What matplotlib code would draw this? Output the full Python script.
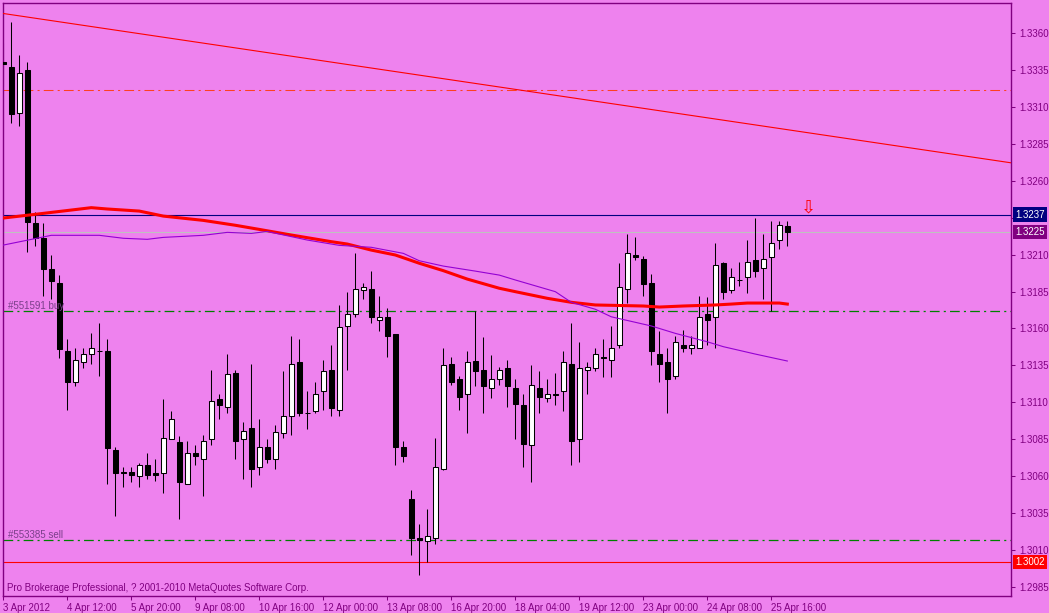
import matplotlib.pyplot as plt
import numpy as np

plt.rcParams['font.family'] = ['Liberation Sans', 'DejaVu Sans']
plt.rcParams['lines.scale_dashes'] = False

# EURUSD H4, 3 Apr - 25 Apr 2012 (99 bars)
opens = [1.3340, 1.3337, 1.3306, 1.3335, 1.3231, 1.3221, 1.3200, 1.3191, 1.3145, 1.3124,
         1.3137, 1.3143, 1.3145, 1.3145, 1.3078, 1.3063, 1.3063, 1.3060, 1.3068, 1.3062,
         1.3062, 1.3085, 1.3083, 1.3055, 1.3076, 1.3072, 1.3085, 1.3112, 1.3107, 1.3130,
         1.3085, 1.3093, 1.3066, 1.3080, 1.3072, 1.3089, 1.3101, 1.3137, 1.3103, 1.3104,
         1.3118, 1.3132, 1.3105, 1.3162, 1.3170, 1.3186, 1.3187, 1.3166, 1.3168, 1.3156,
         1.3080, 1.3045, 1.3018, 1.3016, 1.3018, 1.3065, 1.3136, 1.3126, 1.3116, 1.3138,
         1.3132, 1.3120, 1.3126, 1.3133, 1.3120, 1.3108, 1.3081, 1.3120, 1.3113, 1.3116,
         1.3118, 1.3136, 1.3085, 1.3132, 1.3133, 1.3141, 1.3139, 1.3149, 1.3187, 1.3210,
         1.3207, 1.3191, 1.3143, 1.3137, 1.3128, 1.3149, 1.3147, 1.3147, 1.3170, 1.3168,
         1.3204, 1.3186, 1.3193, 1.3195, 1.3206, 1.3201, 1.3208, 1.3220, 1.3229]
highs = [1.3353, 1.3367, 1.3345, 1.3340, 1.3239, 1.3231, 1.3210, 1.3196, 1.3153, 1.3147,
         1.3147, 1.3157, 1.3164, 1.3153, 1.3080, 1.3066, 1.3066, 1.3069, 1.3076, 1.3072,
         1.3112, 1.3104, 1.3087, 1.3084, 1.3081, 1.3088, 1.3132, 1.3116, 1.3143, 1.3132,
         1.3097, 1.3136, 1.3099, 1.3085, 1.3095, 1.3131, 1.3155, 1.3153, 1.3118, 1.3124,
         1.3139, 1.3149, 1.3176, 1.3185, 1.3211, 1.3191, 1.3199, 1.3182, 1.3174, 1.3156,
         1.3084, 1.3051, 1.3028, 1.3038, 1.3086, 1.3147, 1.3141, 1.3128, 1.3145, 1.3172,
         1.3154, 1.3142, 1.3134, 1.3139, 1.3126, 1.3116, 1.3135, 1.3131, 1.3126, 1.3130,
         1.3145, 1.3164, 1.3151, 1.3137, 1.3147, 1.3153, 1.3162, 1.3204, 1.3224, 1.3222,
         1.3209, 1.3197, 1.3158, 1.3147, 1.3155, 1.3159, 1.3155, 1.3182, 1.3181, 1.3218,
         1.3205, 1.3201, 1.3205, 1.3220, 1.3235, 1.3224, 1.3233, 1.3233, 1.3233]
lows = [1.3324, 1.3299, 1.3297, 1.3212, 1.3216, 1.3182, 1.3180, 1.3140, 1.3105, 1.3121,
        1.3133, 1.3136, 1.3128, 1.3055, 1.3033, 1.3053, 1.3056, 1.3053, 1.3058, 1.3057,
        1.3049, 1.3085, 1.3031, 1.3055, 1.3068, 1.3047, 1.3081, 1.3099, 1.3103, 1.3072,
        1.3058, 1.3053, 1.3061, 1.3069, 1.3065, 1.3086, 1.3088, 1.3101, 1.3092, 1.3103,
        1.3105, 1.3101, 1.3101, 1.3132, 1.3168, 1.3180, 1.3164, 1.3158, 1.3141, 1.3068,
        1.3070, 1.3007, 1.2993, 1.3002, 1.3014, 1.3064, 1.3122, 1.3105, 1.3089, 1.3121,
        1.3103, 1.3113, 1.3122, 1.3107, 1.3085, 1.3066, 1.3056, 1.3103, 1.3110, 1.3108,
        1.3104, 1.3068, 1.3070, 1.3116, 1.3131, 1.3127, 1.3127, 1.3147, 1.3177, 1.3206,
        1.3182, 1.3135, 1.3124, 1.3103, 1.3126, 1.3144, 1.3143, 1.3147, 1.3149, 1.3147,
        1.3180, 1.3184, 1.3189, 1.3184, 1.3195, 1.3180, 1.3172, 1.3214, 1.3216]
closes = [1.3339, 1.3305, 1.3333, 1.3232, 1.3221, 1.3200, 1.3192, 1.3146, 1.3124, 1.3139,
          1.3143, 1.3147, 1.3145, 1.3079, 1.3062, 1.3062, 1.3061, 1.3068, 1.3061, 1.3061,
          1.3086, 1.3099, 1.3056, 1.3076, 1.3074, 1.3084, 1.3111, 1.3108, 1.3129, 1.3084,
          1.3091, 1.3065, 1.3080, 1.3072, 1.3090, 1.3101, 1.3136, 1.3103, 1.3103, 1.3116,
          1.3131, 1.3106, 1.3161, 1.3170, 1.3187, 1.3188, 1.3168, 1.3168, 1.3155, 1.3080,
          1.3074, 1.3018, 1.3017, 1.3020, 1.3066, 1.3135, 1.3124, 1.3114, 1.3137, 1.3131,
          1.3121, 1.3126, 1.3132, 1.3121, 1.3109, 1.3082, 1.3122, 1.3114, 1.3116, 1.3115,
          1.3137, 1.3084, 1.3133, 1.3134, 1.3143, 1.3140, 1.3147, 1.3188, 1.3211, 1.3208,
          1.3190, 1.3145, 1.3136, 1.3126, 1.3151, 1.3147, 1.3149, 1.3168, 1.3166, 1.3203,
          1.3185, 1.3195, 1.3193, 1.3205, 1.3199, 1.3207, 1.3218, 1.3230, 1.3225]

# moving averages (bar index, price)
red_ma_idx = [0, 4, 11, 13, 17, 20, 25, 29, 32, 36, 41, 43, 46, 49, 52, 55, 58, 62, 64, 68,
              71, 74, 80, 82, 85, 89, 91, 93, 97, 98]
red_ma = [1.32347, 1.32372, 1.32417, 1.32408, 1.32394, 1.32360, 1.32331, 1.32298, 1.32270, 1.32232,
          1.32187, 1.32171, 1.32130, 1.32097, 1.32041, 1.31991, 1.31934, 1.31872, 1.31849, 1.31804,
          1.31777, 1.31759, 1.31752, 1.31745, 1.31752, 1.31759, 1.31765, 1.31772, 1.31772, 1.31765]
violet_ma_idx = [0, 6, 12, 15, 18, 20, 25, 28, 31, 33, 38, 42, 46, 50, 52, 55, 59, 62, 64, 69,
                 71, 74, 76, 81, 84, 88, 90, 94, 98]
violet_ma = [1.32164, 1.32230, 1.32230, 1.32210, 1.32203, 1.32216, 1.32230, 1.32250, 1.32243, 1.32256,
             1.32198, 1.32162, 1.32149, 1.32108, 1.32058, 1.32022, 1.31988, 1.31961, 1.31928, 1.31849,
             1.31777, 1.31730, 1.31679, 1.31617, 1.31567, 1.31510, 1.31477, 1.31427, 1.31380]

# trend line and horizontal levels
trend_idx = [0, 126]
trend_price = [1.3373, 1.3272]
ask = 1.3237
bid = 1.3225
upper_level = 1.3321
buy_level = 1.3172
sell_level = 1.3017
low_level = 1.3002
arrow_idx, arrow_price = 100.7, 1.3242

ytick_vals = [1.3360, 1.3335, 1.3310, 1.3285, 1.3260, 1.3235, 1.3210, 1.3185, 1.3160,
              1.3135, 1.3110, 1.3085, 1.3060, 1.3035, 1.3010, 1.2985]
xtick_idx = [0, 8, 16, 24, 32, 40, 48, 56, 64, 72, 80, 88, 96]
xtick_labels = ['3 Apr 2012', '4 Apr 12:00', '5 Apr 20:00', '9 Apr 08:00', '10 Apr 16:00',
                '12 Apr 00:00', '13 Apr 08:00', '16 Apr 20:00', '18 Apr 04:00', '19 Apr 12:00',
                '23 Apr 00:00', '24 Apr 08:00', '25 Apr 16:00']

bg = '#EE82EE'
frame = '#800080'
fs = 7

fig = plt.figure(figsize=(10.49, 6.13), dpi=100, facecolor=bg)
ax = fig.add_axes([2.5 / 1049, 1 - 596 / 613, (1011 - 2.5) / 1049, (596 - 2.7) / 613])
ax.set_facecolor(bg)

o = np.array(opens)
h = np.array(highs)
l = np.array(lows)
c = np.array(closes)
x = np.arange(len(o))

# candles
ax.vlines(x, l, h, color='black', lw=0.75, zorder=2)
up = c > o
down = c < o
flat = c == o
bottom = np.minimum(o, c)
height = np.abs(c - o)
ax.bar(x[up], height[up], bottom=bottom[up], width=0.6, color='white',
       edgecolor='black', lw=0.75, zorder=3)
ax.bar(x[down], height[down], bottom=bottom[down], width=0.6, color='black',
       edgecolor='black', lw=0.75, zorder=3)
ax.hlines(o[flat], x[flat] - 0.3, x[flat] + 0.3, color='black', lw=0.75, zorder=3)

# indicators
ax.plot(red_ma_idx, red_ma, color='#FF0000', lw=2.2, zorder=4)
ax.plot(violet_ma_idx, violet_ma, color='#9400D3', lw=0.8, zorder=4)
ax.plot(trend_idx, trend_price, color='#FF0000', lw=0.8, zorder=4)

dashdot = (0, (7, 3, 1.5, 3))
ax.axhline(upper_level, color='#FF4020', lw=0.75, ls=dashdot, zorder=1)
ax.axhline(buy_level, color='#008000', lw=0.9, ls=dashdot, zorder=1)
ax.axhline(sell_level, color='#008000', lw=0.9, ls=dashdot, zorder=1)
ax.axhline(ask, color='#000080', lw=0.8, zorder=1)
ax.axhline(bid, color='#C0C0C0', lw=0.8, zorder=1)
ax.axhline(low_level, color='#FF0000', lw=0.8, zorder=1)

ax.text(0.6, buy_level, '#551591 buy', color='#7A3F8A', fontsize=fs, va='bottom', ha='left')
ax.text(0.6, sell_level, '#553385 sell', color='#7A3F8A', fontsize=fs, va='bottom', ha='left')
ax.text(0.0045, 0.0143, 'Pro Brokerage Professional, ? 2001-2010 MetaQuotes Software Corp.',
        transform=ax.transAxes, color=frame, fontsize=fs, va='center', ha='left')
ax.text(arrow_idx, arrow_price, '\u21e9', color='#FF0000', fontsize=13, ha='center',
        va='center', family='DejaVu Sans', zorder=5)

ax.set_xlim(-0.1, 125.96)
ax.set_ylim(1.29791, 1.33803)

ax.yaxis.tick_right()
ax.set_yticks(ytick_vals)
# the 1.3235 label sits under the ask price box
ax.set_yticklabels(['' if abs(v - ask) < 0.0005 else f'{v:.4f}' for v in ytick_vals])
ax.set_xticks(xtick_idx)
ax.set_xticklabels(xtick_labels)
for lbl in ax.get_xticklabels():
    lbl.set_horizontalalignment('left')
ax.tick_params(axis='both', direction='out', length=3, width=0.75, color=frame,
               labelcolor=frame, labelsize=fs)
ax.tick_params(axis='y', pad=3)
ax.tick_params(axis='x', pad=2)

for s in ax.spines.values():
    s.set_color(frame)
    s.set_linewidth(1.0)

# price boxes on the right scale
for val, fc in [(ask, '#000080'), (bid, '#800080'), (low_level, '#FF0000')]:
    ax.text(1.0045, val, f'{val:.4f}', transform=ax.get_yaxis_transform(), ha='left',
            va='center', color='white', fontsize=fs,
            bbox=dict(boxstyle='square,pad=0.22', fc=fc, ec='none'), clip_on=False, zorder=10)

fig.savefig('out.png', dpi=100, facecolor=bg)
